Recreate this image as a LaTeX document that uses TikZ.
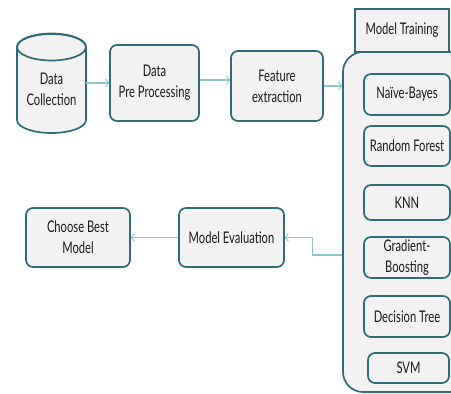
\documentclass[tikz,border=0pt]{standalone}
\usepackage{fontspec}
\setmainfont{Lato}[FakeStretch=0.7]
\usetikzlibrary{arrows.meta}
\definecolor{bd}{RGB}{47,108,120}
\definecolor{ar}{RGB}{140,196,208}
\definecolor{fl}{RGB}{242,242,242}
\definecolor{tx}{RGB}{25,25,25}
\begin{document}
\begin{tikzpicture}[x=1pt,y=1pt,
  box/.style={draw=bd,fill=fl,line width=1.7pt,rounded corners=7pt,align=center,
    inner sep=0pt,text=tx,font=\fontsize{16}{21}\selectfont},
  conn/.style={draw=ar,line width=1.1pt,-{Straight Barb[length=3pt,width=8pt,line width=0.9pt]}}]
\useasboundingbox (0,0) rectangle (451,394);
% cylinder
\path[draw=bd,fill=fl,line width=1.7pt] (17,347) -- (17,274)
  arc[start angle=180,end angle=360,x radius=34.5pt,y radius=13pt] -- (86,347)
  arc[start angle=0,end angle=180,x radius=34.5pt,y radius=13pt] -- cycle;
\draw[bd,line width=1.7pt] (51.5,347) ellipse[x radius=34.5pt,y radius=13.5pt];
\node[align=center,text=tx,font=\fontsize{16}{21}\selectfont,minimum width=69pt,inner sep=0pt] (dc) at (51.5,305) {Data\\Collection};
\node[box,minimum width=89pt,minimum height=76pt] (pp) at (154.5,311) {Data\\Pre Processing};
\node[box,minimum width=92pt,minimum height=70pt] (fe) at (277,308) {Feature\\extraction};
% container
\node[box,rounded corners=20pt,minimum width=127pt,minimum height=340pt] (ct) at (406.5,172) {};
\node[box,rounded corners=0pt,minimum width=94pt,minimum height=43pt] (mt) at (402,363.5) {Model Training};
\node[box,minimum width=86pt,minimum height=41pt] (nb) at (407,299.5) {Naïve-Bayes};
\node[box,minimum width=86pt,minimum height=40pt] (rf) at (407,248) {Random Forest};
\node[box,minimum width=86pt,minimum height=35pt] (knn) at (407,191.5) {KNN};
\node[box,minimum width=86pt,minimum height=41pt] (gb) at (407,136.5) {Gradient-\\Boosting};
\node[box,minimum width=86pt,minimum height=41pt] (dt) at (407,77.5) {Decision Tree};
\node[box,minimum width=81pt,minimum height=30pt] (svm) at (408.5,26) {SVM};
\node[box,minimum width=105pt,minimum height=59pt] (me) at (231.5,156.5) {Model Evaluation};
\node[box,minimum width=104pt,minimum height=59pt] (cb) at (78,156.5) {Choose Best\\Model};
% connectors
\draw[conn] (pp.west -| dc.east) -- (pp.west);
\draw[conn] ([yshift=3pt]pp.east) -- ([yshift=3pt]pp.east -| fe.west);
\draw[conn] (fe.east) -- (fe.east -| ct.west);
\draw[conn] ([yshift=-33pt]ct.west) -- ++(-30,0) |- (me.east);
\draw[conn] (me.west) -- (cb.east);
\end{tikzpicture}
\end{document}
